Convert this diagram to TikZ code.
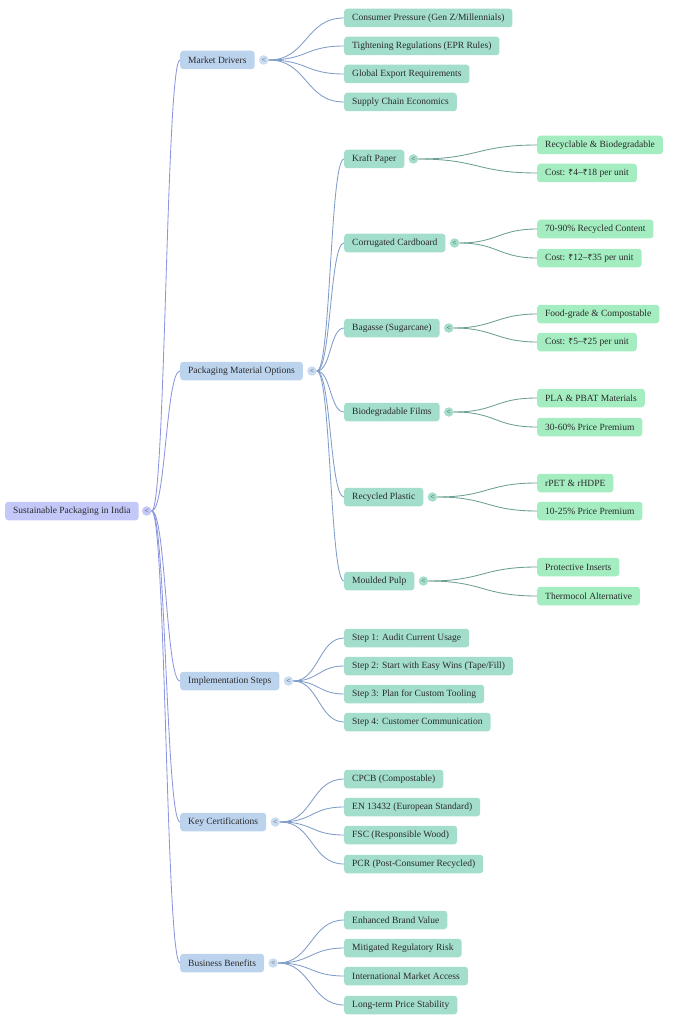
\documentclass[tikz,border=0pt]{standalone}
\usepackage{fontspec}
\setmainfont{Liberation Serif}
\newfontfamily\rupeefont{Noto Sans}
\newcommand{\rupee}{{\rupeefont\fontsize{8.5}{11}\selectfont ₹}}
\usetikzlibrary{positioning}
\definecolor{MapRoot}{HTML}{C4C8F8}
\definecolor{MapBranch}{HTML}{BCD3EE}
\definecolor{MapTopic}{HTML}{A3DECC}
\definecolor{MapLeaf}{HTML}{A4EDC1}
\definecolor{MapRootLine}{HTML}{8C96DF}
\definecolor{MapBranchLine}{HTML}{7F9DC8}
\definecolor{MapTopicLine}{HTML}{6C9F93}
\definecolor{MapText}{HTML}{2A2A2A}
\tikzset{
  mapbox/.style={
    rounded corners=3pt,
    inner xsep=8pt,
    inner ysep=0pt,
    minimum height=18.5pt,
    anchor=west,
    font=\fontsize{9.5}{11}\selectfont,
    text=MapText
  },
  rootbox/.style={mapbox,fill=MapRoot},
  branchbox/.style={mapbox,fill=MapBranch},
  topicbox/.style={mapbox,fill=MapTopic},
  leafbox/.style={mapbox,fill=MapLeaf},
  maptoggle/.style={
    circle,
    inner sep=0pt,
    minimum size=9.5pt,
    font=\fontsize{7.5}{7.5}\selectfont,
    text=MapText!85
  },
  rootlink/.style={draw=MapRootLine,line width=0.85pt},
  branchlink/.style={draw=MapBranchLine,line width=0.85pt},
  topiclink/.style={draw=MapTopicLine,line width=0.85pt}
}

\begin{document}
\begin{tikzpicture}[x=1pt,y=-1pt]
  \useasboundingbox (0,0) rectangle (683,1024);

  % root
  \node[rootbox] (root) at (5,511) {Sustainable Packaging in India};
  \node[maptoggle,fill=MapRoot,right=3pt of root] (root-t) {<};

  % first level
  \node[branchbox] (md) at (180,60) {Market Drivers};
  \node[branchbox] (pmo) at (180,371) {Packaging Material Options};
  \node[branchbox] (impl) at (180,681) {Implementation Steps};
  \node[branchbox] (cert) at (180,822) {Key Certifications};
  \node[branchbox] (ben) at (180,963) {Business Benefits};
  \node[maptoggle,fill=MapBranch!80,right=4pt of md] (md-t) {<};
  \node[maptoggle,fill=MapBranch!80,right=4pt of pmo] (pmo-t) {<};
  \node[maptoggle,fill=MapBranch!80,right=4pt of impl] (impl-t) {<};
  \node[maptoggle,fill=MapBranch!80,right=4pt of cert] (cert-t) {<};
  \node[maptoggle,fill=MapBranch!80,right=4pt of ben] (ben-t) {<};

  % market drivers
  \node[topicbox] (md1) at (344,18) {Consumer Pressure (Gen Z/Millennials)};
  \node[topicbox] (md2) at (344,46) {Tightening Regulations (EPR Rules)};
  \node[topicbox] (md3) at (344,74) {Global Export Requirements};
  \node[topicbox] (md4) at (344,102) {Supply Chain Economics};

  % materials
  \node[topicbox] (kraft) at (344,159) {Kraft Paper};
  \node[topicbox] (corr) at (344,243) {Corrugated Cardboard};
  \node[topicbox] (bag) at (344,328) {Bagasse (Sugarcane)};
  \node[topicbox] (films) at (344,412) {Biodegradable Films};
  \node[topicbox] (plastic) at (344,497) {Recycled Plastic};
  \node[topicbox] (pulp) at (344,581) {Moulded Pulp};
  \node[maptoggle,fill=MapTopic,right=4pt of kraft] (kraft-t) {<};
  \node[maptoggle,fill=MapTopic,right=4pt of corr] (corr-t) {<};
  \node[maptoggle,fill=MapTopic,right=4pt of bag] (bag-t) {<};
  \node[maptoggle,fill=MapTopic,right=4pt of films] (films-t) {<};
  \node[maptoggle,fill=MapTopic,right=4pt of plastic] (plastic-t) {<};
  \node[maptoggle,fill=MapTopic,right=4pt of pulp] (pulp-t) {<};

  \node[leafbox] (kraft1) at (537,145) {Recyclable \& Biodegradable};
  \node[leafbox] (kraft2) at (537,173) {Cost: \rupee4–\rupee18 per unit};
  \node[leafbox] (corr1) at (537,229) {70-90\% Recycled Content};
  \node[leafbox] (corr2) at (537,258) {Cost: \rupee12–\rupee35 per unit};
  \node[leafbox] (bag1) at (537,314) {Food-grade \& Compostable};
  \node[leafbox] (bag2) at (537,342) {Cost: \rupee5–\rupee25 per unit};
  \node[leafbox] (films1) at (537,398) {PLA \& PBAT Materials};
  \node[leafbox] (films2) at (537,427) {30-60\% Price Premium};
  \node[leafbox] (plastic1) at (537,483) {rPET \& rHDPE};
  \node[leafbox] (plastic2) at (537,511) {10-25\% Price Premium};
  \node[leafbox] (pulp1) at (537,567) {Protective Inserts};
  \node[leafbox] (pulp2) at (537,596) {Thermocol Alternative};

  % steps
  \node[topicbox] (impl1) at (344,638) {Step 1: Audit Current Usage};
  \node[topicbox] (impl2) at (344,666) {Step 2: Start with Easy Wins (Tape/Fill)};
  \node[topicbox] (impl3) at (344,694) {Step 3: Plan for Custom Tooling};
  \node[topicbox] (impl4) at (344,722) {Step 4: Customer Communication};

  % certifications
  \node[topicbox] (cert1) at (344,779) {CPCB (Compostable)};
  \node[topicbox] (cert2) at (344,807) {EN 13432 (European Standard)};
  \node[topicbox] (cert3) at (344,835) {FSC (Responsible Wood)};
  \node[topicbox] (cert4) at (344,864) {PCR (Post-Consumer Recycled)};

  % benefits
  \node[topicbox] (ben1) at (344,920) {Enhanced Brand Value};
  \node[topicbox] (ben2) at (344,948) {Mitigated Regulatory Risk};
  \node[topicbox] (ben3) at (344,976) {International Market Access};
  \node[topicbox] (ben4) at (344,1005) {Long-term Price Stability};

  % links
  \draw[rootlink] (root-t.east) .. controls +(14,0) and +(-14,0) .. (md.west);
  \draw[rootlink] (root-t.east) .. controls +(14,0) and +(-14,0) .. (pmo.west);
  \draw[rootlink] (root-t.east) .. controls +(14,0) and +(-14,0) .. (impl.west);
  \draw[rootlink] (root-t.east) .. controls +(14,0) and +(-14,0) .. (cert.west);
  \draw[rootlink] (root-t.east) .. controls +(14,0) and +(-14,0) .. (ben.west);

  \draw[branchlink] (md-t.east) .. controls +(39,0) and +(-39,0) .. (md1.west);
  \draw[branchlink] (md-t.east) .. controls +(39,0) and +(-39,0) .. (md2.west);
  \draw[branchlink] (md-t.east) .. controls +(39,0) and +(-39,0) .. (md3.west);
  \draw[branchlink] (md-t.east) .. controls +(39,0) and +(-39,0) .. (md4.west);

  \draw[branchlink] (pmo-t.east) .. controls +(14,0) and +(-14,0) .. (kraft.west);
  \draw[branchlink] (pmo-t.east) .. controls +(14,0) and +(-14,0) .. (corr.west);
  \draw[branchlink] (pmo-t.east) .. controls +(14,0) and +(-14,0) .. (bag.west);
  \draw[branchlink] (pmo-t.east) .. controls +(14,0) and +(-14,0) .. (films.west);
  \draw[branchlink] (pmo-t.east) .. controls +(14,0) and +(-14,0) .. (plastic.west);
  \draw[branchlink] (pmo-t.east) .. controls +(14,0) and +(-14,0) .. (pulp.west);

  \draw[topiclink] (kraft-t.east) .. controls +(60,0) and +(-60,0) .. (kraft1.west);
  \draw[topiclink] (kraft-t.east) .. controls +(60,0) and +(-60,0) .. (kraft2.west);
  \draw[topiclink] (corr-t.east) .. controls +(38,0) and +(-38,0) .. (corr1.west);
  \draw[topiclink] (corr-t.east) .. controls +(38,0) and +(-38,0) .. (corr2.west);
  \draw[topiclink] (bag-t.east) .. controls +(40,0) and +(-40,0) .. (bag1.west);
  \draw[topiclink] (bag-t.east) .. controls +(40,0) and +(-40,0) .. (bag2.west);
  \draw[topiclink] (films-t.east) .. controls +(43,0) and +(-43,0) .. (films1.west);
  \draw[topiclink] (films-t.east) .. controls +(43,0) and +(-43,0) .. (films2.west);
  \draw[topiclink] (plastic-t.east) .. controls +(50,0) and +(-50,0) .. (plastic1.west);
  \draw[topiclink] (plastic-t.east) .. controls +(50,0) and +(-50,0) .. (plastic2.west);
  \draw[topiclink] (pulp-t.east) .. controls +(55,0) and +(-55,0) .. (pulp1.west);
  \draw[topiclink] (pulp-t.east) .. controls +(55,0) and +(-55,0) .. (pulp2.west);

  \draw[branchlink] (impl-t.east) .. controls +(25,0) and +(-25,0) .. (impl1.west);
  \draw[branchlink] (impl-t.east) .. controls +(25,0) and +(-25,0) .. (impl2.west);
  \draw[branchlink] (impl-t.east) .. controls +(25,0) and +(-25,0) .. (impl3.west);
  \draw[branchlink] (impl-t.east) .. controls +(25,0) and +(-25,0) .. (impl4.west);

  \draw[branchlink] (cert-t.east) .. controls +(33,0) and +(-33,0) .. (cert1.west);
  \draw[branchlink] (cert-t.east) .. controls +(33,0) and +(-33,0) .. (cert2.west);
  \draw[branchlink] (cert-t.east) .. controls +(33,0) and +(-33,0) .. (cert3.west);
  \draw[branchlink] (cert-t.east) .. controls +(33,0) and +(-33,0) .. (cert4.west);

  \draw[branchlink] (ben-t.east) .. controls +(33,0) and +(-33,0) .. (ben1.west);
  \draw[branchlink] (ben-t.east) .. controls +(33,0) and +(-33,0) .. (ben2.west);
  \draw[branchlink] (ben-t.east) .. controls +(33,0) and +(-33,0) .. (ben3.west);
  \draw[branchlink] (ben-t.east) .. controls +(33,0) and +(-33,0) .. (ben4.west);
\end{tikzpicture}
\end{document}
